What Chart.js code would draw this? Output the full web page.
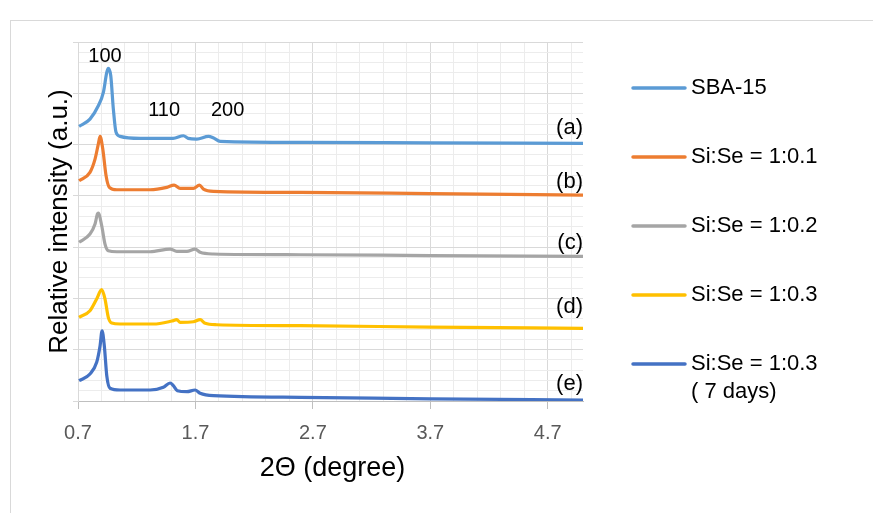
<!DOCTYPE html>
<html>
<head>
<meta charset="utf-8">
<script src="https://cdn.jsdelivr.net/npm/chart.js@4.4.1/dist/chart.umd.min.js"></script>
<style>
  html, body { margin: 0; padding: 0; background: #fff; }
  #wrap { width: 873px; height: 513px; }
</style>
</head>
<body>
<div id="wrap"><canvas id="xrdChart" width="873" height="513"></canvas></div>
<script>
// 2-theta values and offset intensities
const sbaX = [0.709, 0.802, 0.873, 0.916, 0.945, 0.958, 0.979, 1.001, 1.024, 1.058, 1.229, 1.51, 1.598, 1.638, 1.712, 1.811, 1.851, 1.911, 2.593, 3.7, 5.0];
const sbaY = [5.355, 5.497, 5.756, 6.018, 6.407, 6.485, 6.341, 5.692, 5.238, 5.160, 5.121, 5.121, 5.172, 5.121, 5.107, 5.160, 5.133, 5.062, 5.043, 5.033, 5.023];

const se01X = [0.709, 0.802, 0.845, 0.873, 0.888, 0.911, 0.939, 0.967, 1.030, 1.314, 1.456, 1.518, 1.57, 1.683, 1.734, 1.768, 1.853, 2.593, 3.7, 5.0];
const se01Y = [4.294, 4.458, 4.717, 5.010, 5.160, 4.912, 4.392, 4.166, 4.119, 4.119, 4.166, 4.211, 4.146, 4.146, 4.211, 4.133, 4.088, 4.068, 4.045, 4.016];

const se02X = [0.709, 0.802, 0.845, 0.865, 0.873, 0.902, 0.930, 0.958, 1.030, 1.314, 1.484, 1.541, 1.627, 1.697, 1.740, 1.853, 2.593, 3.7, 5.0];
const se02Y = [3.094, 3.255, 3.450, 3.645, 3.665, 3.417, 3.060, 2.930, 2.910, 2.910, 2.963, 2.918, 2.918, 2.963, 2.899, 2.866, 2.852, 2.836, 2.821];

const se03X = [0.709, 0.802, 0.859, 0.902, 0.930, 0.958, 0.987, 1.058, 1.342, 1.499, 1.541, 1.570, 1.683, 1.740, 1.783, 1.882, 2.593, 3.7, 5.0];
const se03Y = [1.632, 1.760, 1.988, 2.170, 1.988, 1.632, 1.520, 1.501, 1.501, 1.559, 1.585, 1.534, 1.546, 1.585, 1.515, 1.487, 1.468, 1.442, 1.417];

const se03dX = [0.709, 0.802, 0.859, 0.888, 0.905, 0.924, 0.945, 0.973, 1.058, 1.314, 1.427, 1.484, 1.512, 1.546, 1.627, 1.697, 1.740, 1.853, 2.593, 3.7, 5.0];
const se03dY = [0.396, 0.526, 0.754, 1.078, 1.370, 1.078, 0.493, 0.248, 0.214, 0.214, 0.267, 0.351, 0.298, 0.201, 0.181, 0.214, 0.150, 0.103, 0.072, 0.043, 0.019];

const seriesNames = ['SBA-15', 'Si:Se = 1:0.1', 'Si:Se = 1:0.2', 'Si:Se = 1:0.3', ['Si:Se = 1:0.3', '( 7 days)']];
const seriesColors = ['#5B9BD5', '#ED7D31', '#A5A5A5', '#FFC000', '#4472C4'];
const seriesTags = ['(a)', '(b)', '(c)', '(d)', '(e)'];
const seriesTagY = [5.32, 4.27, 3.08, 1.83, 0.33];

// Miller index labels over the SBA-15 peaks
const peakNames = ['100', '110', '200'];
const peakX = [0.93, 1.433, 1.974];
const peakY = [6.72, 5.66, 5.66];

const xMajorTicks = [0.7, 1.7, 2.7, 3.7, 4.7];
const xMin = 0.7, xMax = 5.0, xMinor = 0.2;
const yMin = 0, yMax = 7, yMinor = 0.2;

const FONT = "'Liberation Sans', Arial, sans-serif";

function pairs(xs, ys) {
    return xs.map((x, i) => ({ x: x, y: ys[i] }));
}

function isMajorX(v) {
    return xMajorTicks.some(t => Math.abs(t - v) < 1e-6);
}

function isMajorY(v) {
    return Math.abs(v - Math.round(v)) < 1e-6;
}

const allX = [sbaX, se01X, se02X, se03X, se03dX];
const allY = [sbaY, se01Y, se02Y, se03Y, se03dY];

const datasets = allX.map((xs, i) => ({
    label: Array.isArray(seriesNames[i]) ? seriesNames[i].join(' ') : seriesNames[i],
    data: pairs(xs, allY[i]),
    borderColor: seriesColors[i],
    backgroundColor: seriesColors[i],
    borderWidth: 3.2,
    pointRadius: 0,
    cubicInterpolationMode: 'monotone',
    fill: false
}));

// white page, chart frame, then text and legend on top
const decorPlugin = {
    id: 'decor',
    beforeDraw(chart) {
        const c = chart.ctx;
        c.save();
        c.fillStyle = '#fff';
        c.fillRect(0, 0, chart.width, chart.height);
        c.strokeStyle = '#d9d9d9';
        c.lineWidth = 1;
        c.strokeRect(10.5, 20.5, chart.width + 20, chart.height + 20);
        c.restore();
    },
    afterDraw(chart) {
        const c = chart.ctx;
        const xs = chart.scales.x, ys = chart.scales.y;
        const area = chart.chartArea;
        c.save();
        c.fillStyle = '#000';

        // peak labels
        c.font = '20px ' + FONT;
        c.textAlign = 'center';
        c.textBaseline = 'middle';
        peakNames.forEach((t, i) => {
            c.fillText(t, xs.getPixelForValue(peakX[i]), ys.getPixelForValue(peakY[i]));
        });

        // (a)..(e)
        c.font = '22px ' + FONT;
        c.textAlign = 'right';
        seriesTags.forEach((t, i) => {
            c.fillText(t, area.right, ys.getPixelForValue(seriesTagY[i]));
        });

        // axis titles
        c.font = '27px ' + FONT;
        c.textAlign = 'center';
        c.fillText('2\u0398 (degree)', (area.left + area.right) / 2 + 2, 469);
        c.save();
        c.translate(60, (area.top + area.bottom) / 2);
        c.rotate(-Math.PI / 2);
        c.font = '26px ' + FONT;
        c.fillText('Relative intensity (a.u.)', 0, 0);
        c.restore();

        // legend
        c.font = '22px ' + FONT;
        c.textAlign = 'left';
        c.lineWidth = 3.5;
        c.lineCap = 'round';
        seriesNames.forEach((name, i) => {
            const y = 88 + i * 69;
            c.strokeStyle = seriesColors[i];
            c.beginPath();
            c.moveTo(633, y);
            c.lineTo(685, y);
            c.stroke();
            const lines = Array.isArray(name) ? name : [name];
            lines.forEach((ln, k) => c.fillText(ln, 691, y + k * 28));
        });
        c.restore();
    }
};

const ctx = document.getElementById('xrdChart').getContext('2d');
const xrdChart = new Chart(ctx, {
    type: 'line',
    data: { datasets: datasets },
    plugins: [decorPlugin],
    options: {
        responsive: false,
        animation: false,
        devicePixelRatio: 1,
        layout: { padding: { left: 73, right: 290, top: 42, bottom: 56 } },
        plugins: {
            legend: { display: false },
            tooltip: { enabled: false }
        },
        scales: {
            x: {
                type: 'linear',
                min: xMin,
                max: xMax,
                afterBuildTicks: (scale) => {
                    const t = [];
                    for (let k = 0; xMin + k * xMinor <= xMax - 0.05; k++) {
                        t.push({ value: +(xMin + k * xMinor).toFixed(2) });
                    }
                    scale.ticks = t;
                },
                ticks: {
                    autoSkip: false,
                    maxRotation: 0,
                    padding: 12,
                    color: '#595959',
                    font: { family: FONT, size: 20 },
                    callback: (v) => isMajorX(v) ? v.toFixed(1) : ''
                },
                grid: {
                    color: (c) => isMajorX(c.tick.value) ? '#d9d9d9' : '#ececec',
                    tickColor: (c) => isMajorX(c.tick.value) ? '#bfbfbf' : 'rgba(0,0,0,0)',
                    tickLength: 8
                },
                border: { color: '#bfbfbf' }
            },
            y: {
                type: 'linear',
                min: yMin,
                max: yMax,
                afterBuildTicks: (scale) => {
                    const t = [];
                    for (let k = 0; yMin + k * yMinor <= yMax + 1e-6; k++) {
                        t.push({ value: +(yMin + k * yMinor).toFixed(2) });
                    }
                    scale.ticks = t;
                },
                ticks: { display: false },
                grid: {
                    color: (c) => isMajorY(c.tick.value) ? '#d9d9d9' : '#ececec',
                    tickColor: (c) => isMajorY(c.tick.value) ? '#d9d9d9' : 'rgba(0,0,0,0)',
                    tickLength: 5
                },
                border: { color: '#d9d9d9' }
            }
        }
    }
});
</script>
</body>
</html>
